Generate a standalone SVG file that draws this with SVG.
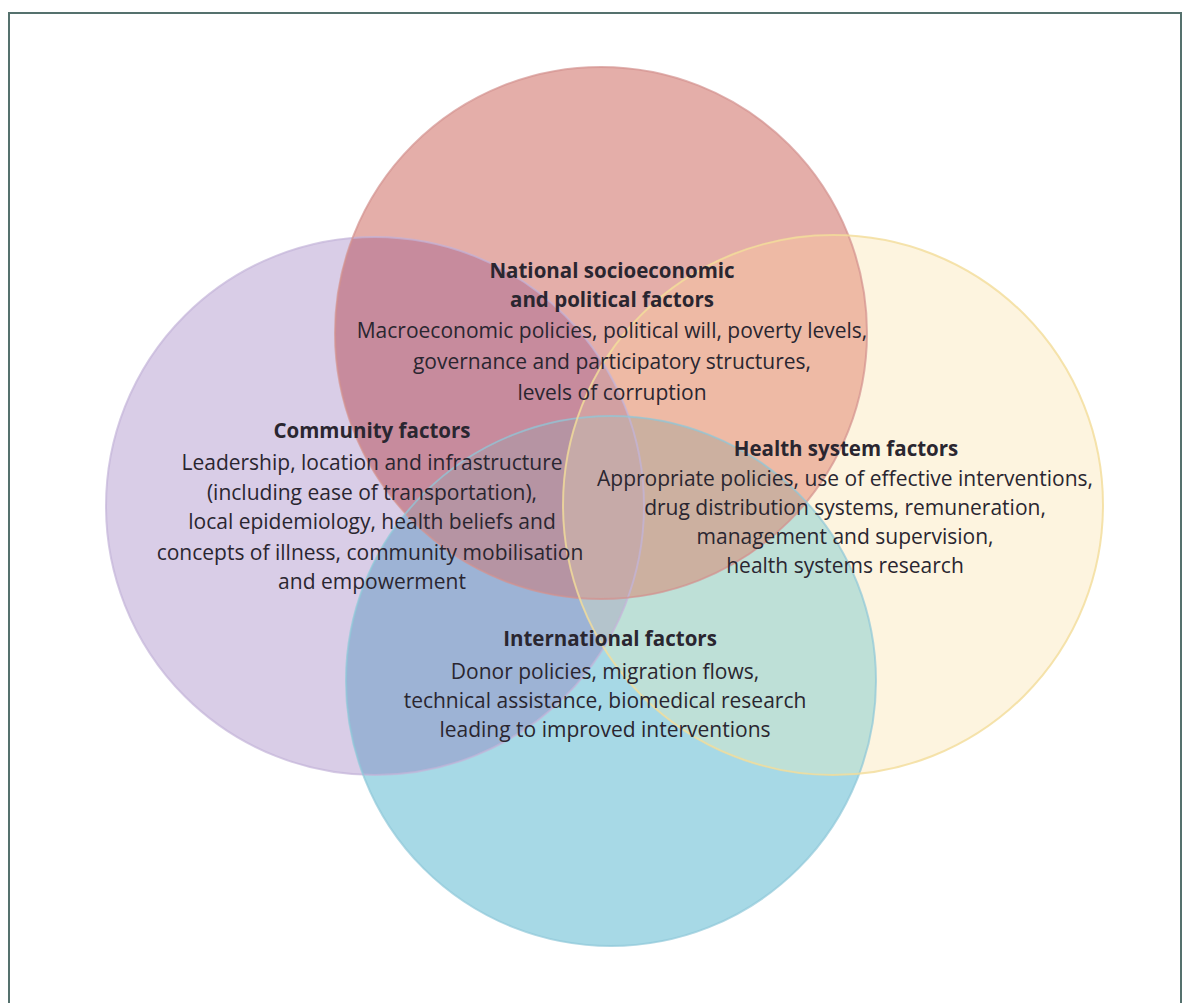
<svg xmlns="http://www.w3.org/2000/svg" width="1189" height="1003" viewBox="0 0 1189 1003">
  <style>
    .t { font-family: "Open Sans", "Noto Sans", "Liberation Sans", sans-serif; font-size: 21px; fill: #2a2630; text-anchor: middle; }
    .h { font-weight: bold; font-size: 20.5px; }
    .edge { fill: none; stroke-width: 2; }
  </style>
  <defs>
    <clipPath id="cP"><circle cx="375" cy="506" r="269"/></clipPath>
    <clipPath id="cR"><circle cx="601" cy="333" r="266"/></clipPath>
    <clipPath id="cB"><circle cx="611" cy="681" r="265"/></clipPath>
    <clipPath id="cY"><circle cx="833" cy="505" r="270"/></clipPath>
  </defs>
  <rect x="0" y="0" width="1189" height="1003" fill="#ffffff"/>
  <rect id="frame" x="9" y="13" width="1172" height="1010" fill="none" stroke="#55716d" stroke-width="2"/>
  <g id="connectors"/>

  <!-- single circles -->
  <g id="community">
    <circle cx="375" cy="506" r="269" fill="#d9cde7"/>
  </g>
  <g id="national">
    <circle cx="601" cy="333" r="266" fill="#e4aea9"/>
  </g>
  <g id="international">
    <circle cx="611" cy="681" r="265" fill="#a7d9e6"/>
  </g>
  <g id="health">
    <circle cx="833" cy="505" r="270" fill="#fdf4df"/>
  </g>

  <!-- overlaps -->
  <g id="overlaps">
    <g clip-path="url(#cP)"><circle cx="601" cy="333" r="266" fill="#c78b9d"/></g>
    <g clip-path="url(#cY)"><circle cx="601" cy="333" r="266" fill="#eebaa5"/></g>
    <g clip-path="url(#cP)"><circle cx="611" cy="681" r="265" fill="#9db3d5"/></g>
    <g clip-path="url(#cY)"><circle cx="611" cy="681" r="265" fill="#bee0d7"/></g>
    <g clip-path="url(#cR)"><circle cx="611" cy="681" r="265" fill="#c0a6b6"/></g>
    <g clip-path="url(#cP)"><circle cx="833" cy="505" r="270" fill="#e0d2d6"/></g>
    <g clip-path="url(#cP)"><g clip-path="url(#cR)"><circle cx="611" cy="681" r="265" fill="#b694a3"/></g></g>
    <g clip-path="url(#cY)"><g clip-path="url(#cR)"><circle cx="611" cy="681" r="265" fill="#ccb0a0"/></g></g>
    <g clip-path="url(#cP)"><g clip-path="url(#cR)"><circle cx="833" cy="505" r="270" fill="#d2a0a2"/></g></g>
    <g clip-path="url(#cP)"><g clip-path="url(#cB)"><circle cx="833" cy="505" r="270" fill="#b4c4cc"/></g></g>
    <g clip-path="url(#cP)"><g clip-path="url(#cR)"><g clip-path="url(#cB)"><circle cx="833" cy="505" r="270" fill="#c6aaa8"/></g></g></g>
  </g>

  <!-- outlines -->
  <g id="outlines">
    <circle class="edge" cx="375" cy="506" r="269" stroke="#c3b4d8" stroke-opacity="0.7"/>
    <circle class="edge" cx="601" cy="333" r="266" stroke="#d3918f" stroke-opacity="0.7"/>
    <circle class="edge" cx="611" cy="681" r="265" stroke="#8ec8d8" stroke-opacity="0.7"/>
    <circle class="edge" cx="833" cy="505" r="270" stroke="#f3dc98" stroke-opacity="0.8"/>
  </g>

  <g id="national-text">
    <text class="t h" x="612" y="278">National socioeconomic</text>
    <text class="t h" x="612" y="307">and political factors</text>
    <text class="t" x="612" y="338">Macroeconomic policies, political will, poverty levels,</text>
    <text class="t" x="612" y="369">governance and participatory structures,</text>
    <text class="t" x="612" y="400">levels of corruption</text>
  </g>
  <g id="community-text">
    <text class="t h" x="372" y="438">Community factors</text>
    <text class="t" x="372" y="470">Leadership, location and infrastructure</text>
    <text class="t" x="372" y="500">(including ease of transportation),</text>
    <text class="t" x="372" y="529">local epidemiology, health beliefs and</text>
    <text class="t" x="370" y="560">concepts of illness, community mobilisation</text>
    <text class="t" x="372" y="589">and empowerment</text>
  </g>
  <g id="health-text">
    <text class="t h" x="846" y="456">Health system factors</text>
    <text class="t" x="845" y="486">Appropriate policies, use of effective interventions,</text>
    <text class="t" x="845" y="515">drug distribution systems, remuneration,</text>
    <text class="t" x="845" y="544">management and supervision,</text>
    <text class="t" x="845" y="573">health systems research</text>
  </g>
  <g id="international-text">
    <text class="t h" x="610" y="646">International factors</text>
    <text class="t" x="605" y="679">Donor policies, migration flows,</text>
    <text class="t" x="605" y="708">technical assistance, biomedical research</text>
    <text class="t" x="605" y="737">leading to improved interventions</text>
  </g>
</svg>
